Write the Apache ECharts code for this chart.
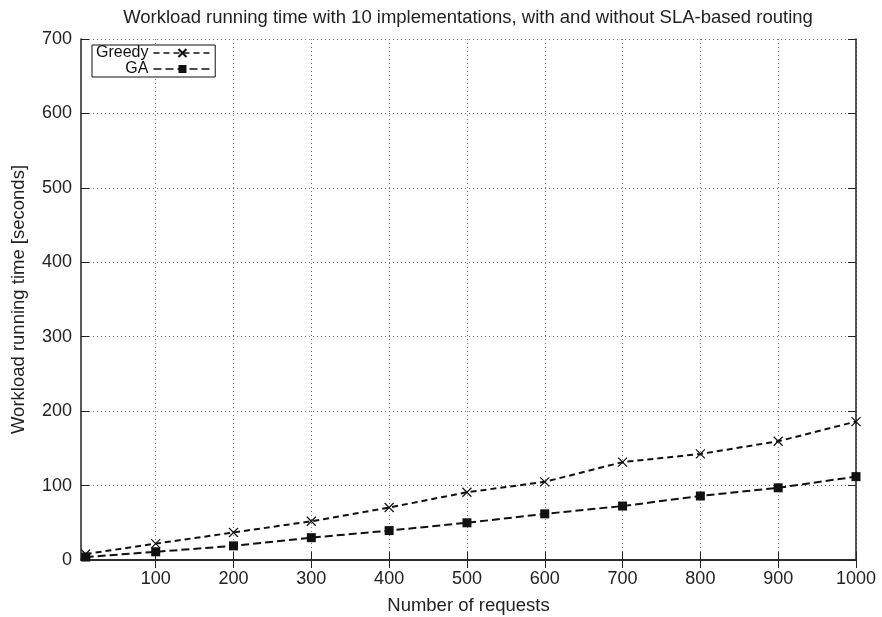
<!DOCTYPE html>
<html>
<head>
<meta charset="utf-8">
<script src="https://cdn.jsdelivr.net/npm/echarts@6/dist/echarts.min.js"></script>
<style>html,body{margin:0;padding:0;background:#fff}#c{width:882px;height:617px}</style>
</head>
<body>
<div id="c"></div>
<script>
const requests = [10, 100, 200, 300, 400, 500, 600, 700, 800, 900, 1000];
const greedy = [8, 22, 37, 52, 70.5, 91, 105, 131.5, 142.5, 159.5, 186];
const ga = [4, 11, 19, 30, 39.5, 50, 62, 72.5, 86, 97, 112];
const xTicks = [100, 200, 300, 400, 500, 600, 700, 800, 900, 1000];
const seriesNames = ['Greedy', 'GA'];

const chart = echarts.init(document.getElementById('c'));
const font = 'Liberation Sans, Arial, sans-serif';
const xCommon = {
  type: 'value', min: 4, max: 1000,
  axisLine: {show: true, lineStyle: {color: '#222', width: 1.5}},
  axisTick: {show: true, inside: true, length: 8, customValues: xTicks, lineStyle: {color: '#222'}},
};
const yCommon = {
  type: 'value', min: 0, max: 700, interval: 100,
  axisLine: {show: true, lineStyle: {color: '#222', width: 1.5}},
  axisTick: {show: true, inside: true, length: 8, lineStyle: {color: '#222'}},
};
chart.setOption({
  animation: false,
  backgroundColor: '#fff',
  title: {
    text: 'Workload running time with 10 implementations, with and without SLA-based routing',
    left: 463, textAlign: 'center', top: 3,
    textStyle: {fontFamily: font, fontSize: 18.5, fontWeight: 'normal', color: '#222'}
  },
  grid: {left: 81, right: 26, top: 39, bottom: 57, containLabel: false, outerBoundsMode: 'none'},
  legend: {
    data: seriesNames,
    orient: 'vertical', left: 92, top: 45, align: 'right',
    itemGap: 0, itemWidth: 58, itemHeight: 10,
    padding: [0, 3, 0, 4],
    borderColor: '#111', borderWidth: 1, backgroundColor: '#fff',
    lineStyle: {width: 1.5},
    textStyle: {fontFamily: font, fontSize: 16, color: '#111', width: 50, align: 'right'}
  },
  xAxis: [
    Object.assign({}, xCommon, {
      position: 'bottom',
      name: 'Number of requests', nameLocation: 'middle', nameGap: 36,
      nameTextStyle: {fontFamily: font, fontSize: 18.5, color: '#222'},
      axisLabel: {customValues: xTicks, formatter: v => String(v), fontFamily: font, fontSize: 18, color: '#222', margin: 10},
      splitLine: {show: true, lineStyle: {color: '#777', type: [1, 3], width: 1}}
    }),
    Object.assign({}, xCommon, {
      position: 'top', axisLabel: {show: false}, splitLine: {show: false}
    })
  ],
  yAxis: [
    Object.assign({}, yCommon, {
      position: 'left',
      name: 'Workload running time [seconds]', nameLocation: 'middle', nameGap: 53,
      nameTextStyle: {fontFamily: font, fontSize: 18.5, color: '#222'},
      axisLabel: {fontFamily: font, fontSize: 18, color: '#222', margin: 9},
      splitLine: {show: true, lineStyle: {color: '#777', type: [1, 3], width: 1}}
    }),
    Object.assign({}, yCommon, {
      position: 'right', axisLabel: {show: false}, splitLine: {show: false}
    })
  ],
  series: [
    {
      name: seriesNames[0], type: 'line',
      data: requests.map((r, i) => [r, greedy[i]]),
      symbol: 'path://M0,0L10,10M10,0L0,10', symbolSize: 9,
      itemStyle: {color: 'none', borderColor: '#111', borderWidth: 1.2},
      lineStyle: {color: '#111', width: 2, type: [6, 4]}
    },
    {
      name: seriesNames[1], type: 'line',
      data: requests.map((r, i) => [r, ga[i]]),
      symbol: 'rect', symbolSize: 9,
      itemStyle: {color: '#111'},
      lineStyle: {color: '#111', width: 2, type: [8, 4]}
    }
  ]
});
</script>
</body>
</html>
